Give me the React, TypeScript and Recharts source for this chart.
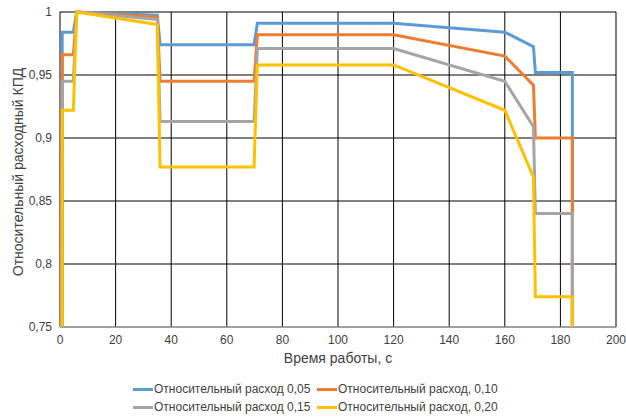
import React from "react";
import { LineChart, Line, XAxis, YAxis, CartesianGrid, Legend } from "recharts";

const xValues = [0.7, 0.8, 4.8, 6, 35, 36, 69.8, 71, 120, 160, 170.3, 171, 184.3, 184.3];
const flow005 = [0.75, 0.984, 0.984, 1, 0.9975, 0.974, 0.974, 0.991, 0.991, 0.984, 0.9725, 0.952, 0.952, 0.75];
const flow010 = [0.75, 0.966, 0.966, 1, 0.996, 0.945, 0.945, 0.982, 0.982, 0.965, 0.942, 0.9, 0.9, 0.75];
const flow015 = [0.75, 0.945, 0.945, 1, 0.994, 0.913, 0.913, 0.971, 0.971, 0.945, 0.909, 0.84, 0.84, 0.75];
const flow020 = [0.75, 0.922, 0.922, 1, 0.99, 0.877, 0.877, 0.958, 0.958, 0.922, 0.869, 0.774, 0.774, 0.75];

const seriesNames = [
  "Относительный расход 0,05",
  "Относительный расход, 0,10",
  "Относительный расход 0,15",
  "Относительный расход, 0,20",
];
const colors = ["#5B9BD5", "#ED7D31", "#A5A5A5", "#FFC000"];
const xTicks = [0, 20, 40, 60, 80, 100, 120, 140, 160, 180, 200];
const yTicks = [0.75, 0.8, 0.85, 0.9, 0.95, 1];
const xTitle = "Время работы, с";
const yTitle = "Относительный расходный КПД";

const allSeries = [flow005, flow010, flow015, flow020].map((ys) =>
  xValues.map((x, i) => ({ x, y: ys[i] }))
);

const FONT = "'Liberation Sans', Arial, sans-serif";
const TEXT = "#404040";

const legendPos = [
  { left: 133, top: 22 },
  { left: 317, top: 22 },
  { left: 133, top: 40 },
  { left: 317, top: 40 },
];

const LegendContent = () => (
  <div style={{ position: "relative", height: 51, width: 626, fontFamily: FONT, fontSize: 12, color: TEXT }}>
    {seriesNames.map((n, i) => (
      <div key={n} style={{ position: "absolute", left: legendPos[i].left, top: legendPos[i].top - 8, height: 16, display: "flex", alignItems: "center", whiteSpace: "nowrap" }}>
        <div style={{ width: 20, height: 3, background: colors[i] }} />
        <span style={{ marginLeft: 1 }}>{n}</span>
      </div>
    ))}
  </div>
);

export default function App() {
  return (
    <div style={{ position: "absolute", left: 0, top: 0, width: 626, height: 418, background: "#fff" }}>
      <LineChart width={626} height={418} margin={{ top: 12, right: 10, left: 0, bottom: 0 }}>
        <CartesianGrid stroke="#000" strokeWidth={1} horizontalValues={yTicks} verticalValues={xTicks} />
        <XAxis
          type="number"
          dataKey="x"
          domain={[0, 200]}
          ticks={xTicks}
          height={40}
          tickLine={false}
          axisLine={{ stroke: "#BFBFBF" }}
          tick={{ fontSize: 12, fill: TEXT, fontFamily: FONT }}
          label={{
            content: () => (
              <text x={338} y={358} textAnchor="middle" dominantBaseline="central" fontSize={14} fill={TEXT} fontFamily={FONT}>
                {xTitle}
              </text>
            ),
          }}
        />
        <YAxis
          type="number"
          domain={[0.75, 1]}
          ticks={yTicks}
          width={60}
          tickLine={false}
          axisLine={false}
          tickFormatter={(v: number) => String(v).replace(".", ",")}
          tick={{ fontSize: 12, fill: TEXT, fontFamily: FONT }}
          label={{
            content: () => (
              <text x={18} y={172} transform="rotate(-90 18 172)" textAnchor="middle" dominantBaseline="central" fontSize={14} fill={TEXT} fontFamily={FONT}>
                {yTitle}
              </text>
            ),
          }}
        />
        <Legend verticalAlign="bottom" height={51} content={() => <LegendContent />} />
        {allSeries.map((d, i) => (
          <Line
            key={seriesNames[i]}
            data={d}
            dataKey="y"
            name={seriesNames[i]}
            type="linear"
            stroke={colors[i]}
            strokeWidth={3}
            dot={false}
            activeDot={false}
            isAnimationActive={false}
          />
        ))}
      </LineChart>
    </div>
  );
}
